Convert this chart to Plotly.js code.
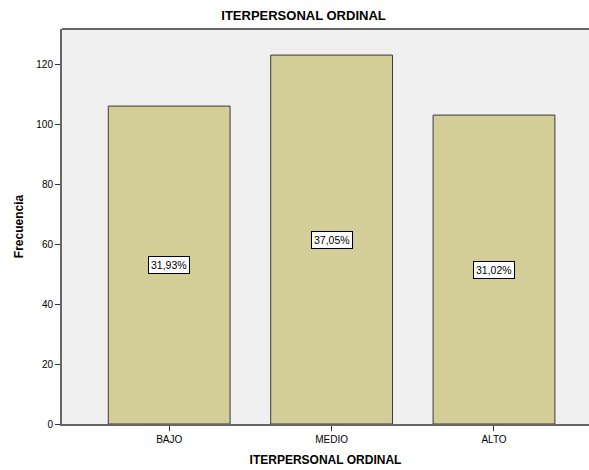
<!DOCTYPE html>
<html>
<head>
<meta charset="utf-8">
<script src="https://cdn.plot.ly/plotly-3.0.1.min.js"></script>
<style>html,body{margin:0;padding:0;background:#fff;}#chart{width:589px;height:470px;}</style>
</head>
<body>
<div id="chart"></div>
<script>
var categories = ["BAJO", "MEDIO", "ALTO"];
var frequencies = [106, 123, 103];
var percentLabels = ["31,93%", "37,05%", "31,02%"];
var yTicks = [0, 20, 40, 60, 80, 100, 120];

var trace = {
  type: "bar",
  x: categories,
  y: frequencies,
  width: 0.75,
  marker: { color: "#D3CE98", line: { color: "#3a3a3a", width: 1 } },
  hoverinfo: "none"
};

var annotations = categories.map(function (c, i) {
  return {
    x: c, y: frequencies[i] / 2, xref: "x", yref: "y",
    text: percentLabels[i], showarrow: false,
    font: { family: "Liberation Sans, Arial, sans-serif", size: 10.5, color: "#000" },
    bgcolor: "#ffffff", bordercolor: "#000000", borderwidth: 1, borderpad: 2
  };
});

var layout = {
  width: 589, height: 470,
  margin: { l: 62, r: 0, t: 29, b: 46 },
  paper_bgcolor: "#ffffff",
  plot_bgcolor: "#F0F0F0",
  showlegend: false,
  font: { family: "Liberation Sans, Arial, sans-serif", color: "#000" },
  title: {
    text: "<b>ITERPERSONAL ORDINAL</b>",
    font: { size: 13, color: "#000" },
    x: 303.5 / 589, xref: "container", xanchor: "center",
    y: 1 - 15 / 470, yref: "container", yanchor: "middle"
  },
  xaxis: {
    type: "category",
    range: [-0.66, 2.585],
    showgrid: false, zeroline: false,
    showline: true, linecolor: "#666666", linewidth: 2,
    ticks: "outside", ticklen: 5, tickcolor: "#333", tickwidth: 1,
    tickfont: { size: 10, color: "#000" },
    title: { text: "<b>ITERPERSONAL ORDINAL</b>", font: { size: 12, color: "#000" }, standoff: 12 }
  },
  yaxis: {
    range: [0, 131.7],
    tickvals: yTicks,
    showgrid: false, zeroline: false,
    showline: true, linecolor: "#666666", linewidth: 2,
    ticks: "outside", ticklen: 5, tickcolor: "#333", tickwidth: 1,
    tickfont: { size: 10, color: "#000" },
    title: { text: "<b>Frecuencia</b>", font: { size: 12, color: "#000" }, standoff: 10 }
  },
  annotations: annotations,
  shapes: [{
    type: "line", xref: "paper", yref: "paper", x0: 0, x1: 1, y0: 1, y1: 1,
    line: { color: "#666666", width: 2 }
  }]
};

Plotly.newPlot("chart", [trace], layout, { displayModeBar: false, staticPlot: true });
</script>
</body>
</html>
